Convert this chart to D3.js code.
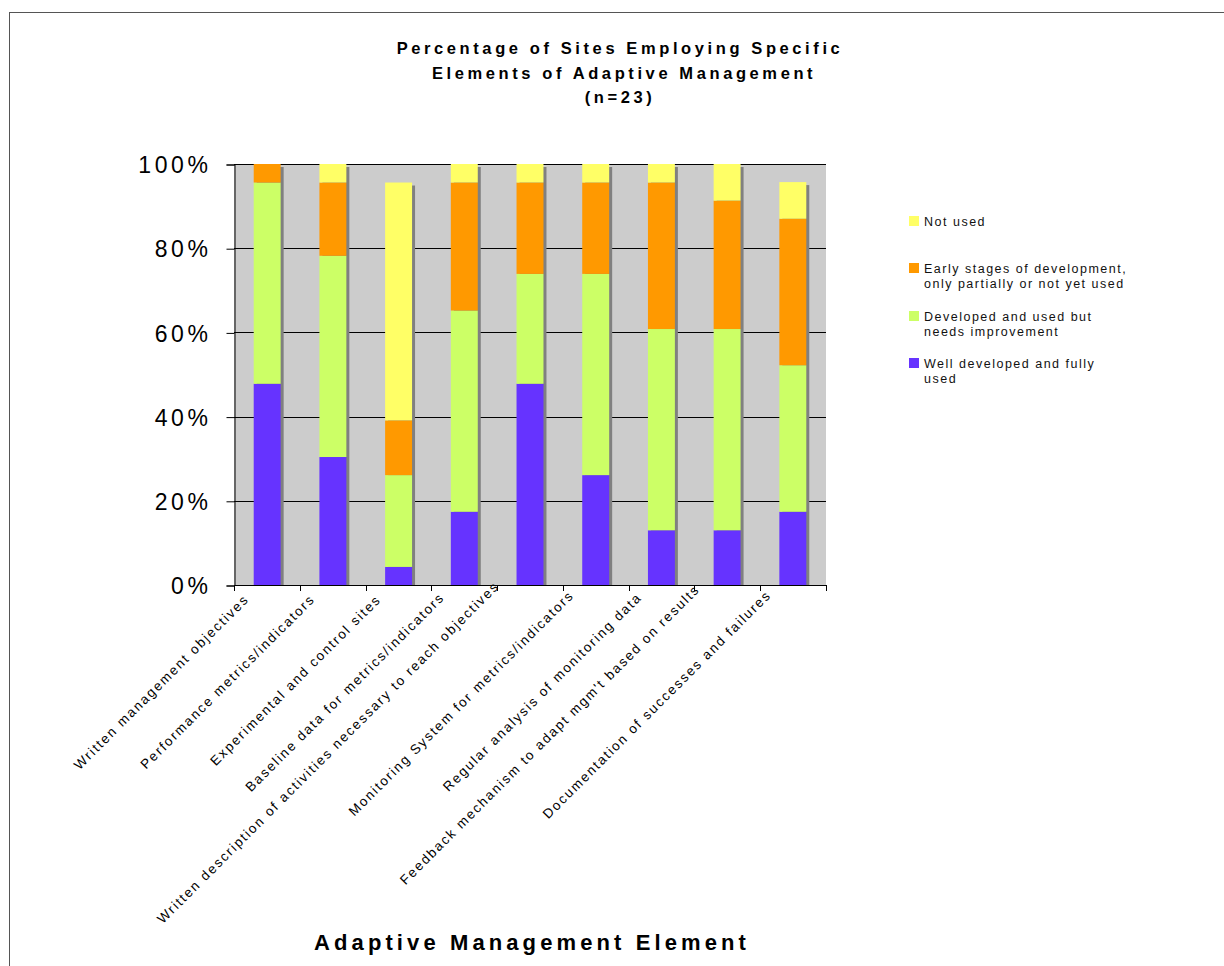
<!DOCTYPE html>
<html>
<head>
<meta charset="utf-8">
<script src="https://cdn.jsdelivr.net/npm/d3@7"></script>
<style>
  body { margin: 0; background: #fff; }
  svg { display: block; font-family: "Liberation Sans", Arial, sans-serif; }
</style>
</head>
<body>
<script>
// categories along the x axis
var categories = [
  "Written management objectives",
  "Performance metrics/indicators",
  "Experimental and control sites",
  "Baseline data for metrics/indicators",
  "Written description of activities necessary to reach objectives",
  "Monitoring System for metrics/indicators",
  "Regular analysis of monitoring data",
  "Feedback mechanism to adapt mgm't based on results",
  "Documentation of successes and failures"
];

// percent of the 23 sites
var wellDeveloped  = [47.8, 30.4,  4.3, 17.4, 47.8, 26.1, 13.0, 13.0, 17.4];
var developedNeeds = [47.8, 47.8, 21.8, 47.8, 26.1, 47.8, 47.8, 47.8, 34.8];
var earlyStages    = [ 4.4, 17.4, 13.0, 30.4, 21.7, 21.7, 34.8, 30.5, 34.8];
var notUsed        = [ 0.0,  4.4, 56.5,  4.4,  4.4,  4.4,  4.4,  8.7,  8.7];

var seriesNames = [
  "Well developed and fully used",
  "Developed and used but needs improvement",
  "Early stages of development, only partially or not yet used",
  "Not used"
];
var seriesColors = ["#6633ff", "#ccff66", "#ff9900", "#ffff66"];
var yTicks = [0, 20, 40, 60, 80, 100];

var titleLines = ["Percentage of Sites Employing Specific", " Elements of Adaptive Management", "(n=23)"];
var xTitle = "Adaptive Management Element";

// legend is shown top-down in reverse order, with wrapped lines
var legendLines = [
  ["Not used"],
  ["Early stages of development,", "only partially or not yet used"],
  ["Developed and used but", "needs improvement"],
  ["Well developed and fully", "used"]
];

var W = 1224, H = 966;
var pLeft = 234, pRight = 826, pTop = 164, pBottom = 585;

var svg = d3.select("body").append("svg").attr("width", W).attr("height", H);

// outer chart border (runs off the page right and bottom)
svg.append("rect")
   .attr("x", 9.5).attr("y", 12.5)
   .attr("width", 1300).attr("height", 1000)
   .attr("fill", "none").attr("stroke", "#555").attr("stroke-width", 1);

var x = d3.scaleBand().domain(categories).range([pLeft, pRight]).paddingInner(0.59).paddingOuter(0.3);
var xs = d3.scaleBand().domain(categories).range([pLeft, pRight]);
var y = d3.scaleLinear().domain([0, 100]).range([pBottom, pTop]);

// plot background
svg.append("rect")
   .attr("x", pLeft).attr("y", pTop)
   .attr("width", pRight - pLeft).attr("height", pBottom - pTop)
   .attr("fill", "#cccccc");

// gridlines
svg.selectAll("line.grid")
   .data(yTicks.filter(function(d){ return d > 0; }))
   .enter().append("line")
   .attr("class", "grid")
   .attr("x1", pLeft).attr("x2", pRight)
   .attr("y1", function(d){ return Math.round(y(d)) + 0.5; })
   .attr("y2", function(d){ return Math.round(y(d)) + 0.5; })
   .attr("stroke", "#000").attr("stroke-width", 1);

// stack data
var rows = categories.map(function(c, i){
  return { cat: c, s0: wellDeveloped[i], s1: developedNeeds[i], s2: earlyStages[i], s3: notUsed[i] };
});
var stacked = d3.stack().keys(["s0", "s1", "s2", "s3"])(rows);

// shadows behind each bar
var totals = rows.map(function(r){ return r.s0 + r.s1 + r.s2 + r.s3; });
svg.selectAll("rect.shadow")
   .data(rows)
   .enter().append("rect")
   .attr("class", "shadow")
   .attr("x", function(d){ return x(d.cat) + 3; })
   .attr("y", function(d, i){ return y(totals[i]) + 3; })
   .attr("width", x.bandwidth())
   .attr("height", function(d, i){ return pBottom - y(totals[i]) - 3; })
   .attr("fill", "#808080");

var groups = svg.selectAll("g.series")
   .data(stacked)
   .enter().append("g")
   .attr("class", "series")
   .attr("fill", function(d, i){ return seriesColors[i]; });

groups.selectAll("rect")
   .data(function(d){ return d; })
   .enter().append("rect")
   .attr("x", function(d){ return x(d.data.cat); })
   .attr("y", function(d){ return y(d[1]); })
   .attr("width", x.bandwidth())
   .attr("height", function(d){ return Math.max(0, y(d[0]) - y(d[1])); });

// y axis
var yAxis = d3.axisLeft(y).tickValues(yTicks).tickSize(8).tickFormat(function(d){ return d + "%"; });
var gy = svg.append("g").attr("transform", "translate(" + (pLeft + 0.5) + ",0.5)").call(yAxis);
gy.select(".domain").attr("stroke", "#000");
gy.selectAll(".tick line").attr("stroke", "#000");
gy.selectAll(".tick text")
  .attr("x", -23)
  .attr("dy", "0.36em")
  .style("font-family", "'Liberation Sans', Arial, sans-serif")
  .style("font-size", "23px")
  .style("letter-spacing", "3.6px")
  .attr("fill", "#000");

// x axis with ticks at category boundaries
svg.append("line")
   .attr("x1", pLeft).attr("x2", pRight)
   .attr("y1", pBottom + 0.5).attr("y2", pBottom + 0.5)
   .attr("stroke", "#000");
var bounds = categories.map(function(c){ return xs(c); }).concat([pRight]);
svg.selectAll("line.xtick")
   .data(bounds)
   .enter().append("line")
   .attr("x1", function(d){ return Math.round(d) + 0.5; })
   .attr("x2", function(d){ return Math.round(d) + 0.5; })
   .attr("y1", pBottom).attr("y2", pBottom + 6)
   .attr("stroke", "#000");

// rotated category labels
var labels = svg.selectAll("text.xlab")
   .data(categories)
   .enter().append("text")
   .attr("class", "xlab")
   .attr("text-anchor", "end")
   .style("font-size", "13.5px")
   .style("letter-spacing", "1.8px")
   .attr("fill", "#000")
   .text(function(d){ return d; });

var baseLen = labels.node().getComputedTextLength();
labels.attr("transform", function(d){
  var L = this.getComputedTextLength();
  var s = (L - baseLen) * 0.055;
  var cx = xs(d) + xs.bandwidth() / 2 - 17 - s;
  var cy = pBottom + 15 - s;
  return "translate(" + cx + "," + cy + ") rotate(-45)";
});

// title
svg.selectAll("text.title")
   .data(titleLines)
   .enter().append("text")
   .attr("class", "title")
   .attr("x", 620)
   .attr("y", function(d, i){ return 54 + i * 24.5; })
   .attr("text-anchor", "middle")
   .style("font-weight", "bold")
   .style("font-size", "16.5px")
   .style("letter-spacing", "3.6px")
   .style("white-space", "pre")
   .text(function(d){ return d; });

// x axis title
svg.append("text")
   .attr("x", 532).attr("y", 950)
   .attr("text-anchor", "middle")
   .style("font-weight", "bold")
   .style("font-size", "22px")
   .style("letter-spacing", "4.1px")
   .text(xTitle);

// legend
var legendColors = seriesColors.slice().reverse();
var legendY = [216, 263, 311, 358];
var lg = svg.selectAll("g.legend")
   .data(legendLines)
   .enter().append("g")
   .attr("class", "legend")
   .attr("transform", function(d, i){ return "translate(909," + legendY[i] + ")"; });
lg.append("rect")
  .attr("width", 10).attr("height", 10)
  .attr("fill", function(d, i){ return legendColors[i]; });
lg.each(function(lines){
  var t = d3.select(this).append("text")
     .attr("x", 15).attr("y", 9.5)
     .style("font-size", "12.5px")
     .style("letter-spacing", "1.5px")
     .attr("fill", "#111");
  lines.forEach(function(l, j){
    t.append("tspan").attr("x", 15).attr("dy", j === 0 ? 0 : 15).text(l);
  });
});
</script>
</body>
</html>
